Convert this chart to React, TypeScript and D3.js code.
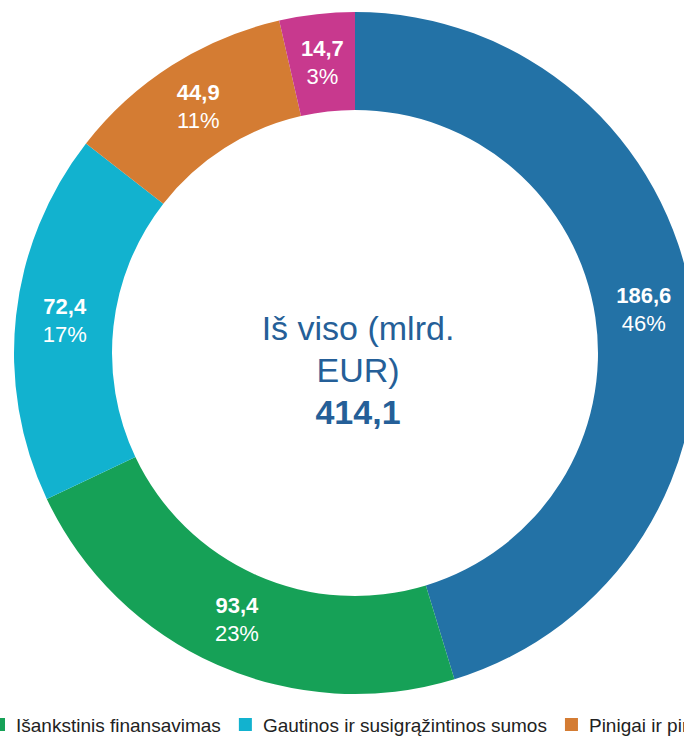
import React, { useEffect, useRef } from "react";
import * as d3 from "d3";

const categories = [
  "Finansinis turtas",
  "Išankstinis finansavimas",
  "Gautinos ir susigrąžintinos sumos",
  "Pinigai ir pinigų ekvivalentai",
  "Kitas turtas",
];
const values = [186.6, 93.4, 72.4, 44.9, 14.7];
const percents = ["46%", "23%", "17%", "11%", "3%"];
const colors = ["#2372a6", "#16a157", "#12b2cf", "#d47c33", "#c8398e"];
const legendOrder = [1, 2, 3, 0, 4];
const centerLines = ["Iš viso (mlrd.", "EUR)"];
const totalLabel = "414,1";

const W = 684;
const H = 736;

export default function App() {
  const ref = useRef<SVGSVGElement | null>(null);

  useEffect(() => {
    const svg = d3.select(ref.current);
    svg.selectAll("*").remove();
    const cx = 355, cy = 353, R = 341, r = 243;
    const g = svg.append("g").attr("transform", `translate(${cx},${cy})`);
    const data = values.map((v, i) => ({ v, i }));
    const pie = d3.pie<any>().value((d) => d.v).sort(null);
    const arcs = pie(data);
    const arc = d3.arc<any>().innerRadius(r).outerRadius(R);
    g.selectAll("path.slice")
      .data(arcs)
      .join("path")
      .attr("class", "slice")
      .attr("d", arc)
      .attr("fill", (d) => colors[d.data.i]);

    const lbl = g.selectAll("g.lbl").data(arcs).join("g").attr("class", "lbl")
      .attr("transform", (d) => {
        const [x, y] = arc.centroid(d);
        return `translate(${x},${y})`;
      });
    lbl.append("text")
      .attr("text-anchor", "middle")
      .attr("y", -7)
      .attr("font-family", "Liberation Sans, Arial, sans-serif")
      .attr("font-size", 22)
      .attr("font-weight", "bold")
      .attr("fill", "#fff")
      .text((d) => d3.format(".1f")(d.data.v).replace(".", ","));
    lbl.append("text")
      .attr("text-anchor", "middle")
      .attr("y", 21)
      .attr("font-family", "Liberation Sans, Arial, sans-serif")
      .attr("font-size", 22)
      .attr("fill", "#fff")
      .text((d) => percents[d.data.i]);

    const center = g.append("g").attr("transform", "translate(3,0)");
    centerLines.forEach((t, k) => {
      center.append("text")
        .attr("text-anchor", "middle")
        .attr("y", -13 + k * 42)
        .attr("font-family", "Liberation Sans, Arial, sans-serif")
        .attr("font-size", 34)
        .attr("fill", "#255f98")
        .text(t);
    });
    center.append("text")
      .attr("text-anchor", "middle")
      .attr("y", -13 + 2 * 42)
      .attr("font-family", "Liberation Sans, Arial, sans-serif")
      .attr("font-size", 34)
      .attr("font-weight", "bold")
      .attr("fill", "#255f98")
      .text(totalLabel);

    // legend
    const lg = svg.append("g").attr("transform", "translate(0,718)");
    let x = -8;
    legendOrder.forEach((i) => {
      lg.append("rect").attr("x", x).attr("y", 0).attr("width", 13).attr("height", 13).attr("fill", colors[i]);
      const t = lg.append("text")
        .attr("x", x + 24)
        .attr("y", 14)
        .attr("font-family", "Liberation Sans, Arial, sans-serif")
        .attr("font-size", 19)
        .attr("fill", "#222")
        .text(categories[i]);
      const w = (t.node() as SVGTextElement).getComputedTextLength();
      x += 24 + w + 18;
    });
  }, []);

  return (
    <svg
      ref={ref}
      width={W}
      height={H}
      style={{ position: "absolute", left: 0, top: 0, background: "#fff" }}
    />
  );
}
